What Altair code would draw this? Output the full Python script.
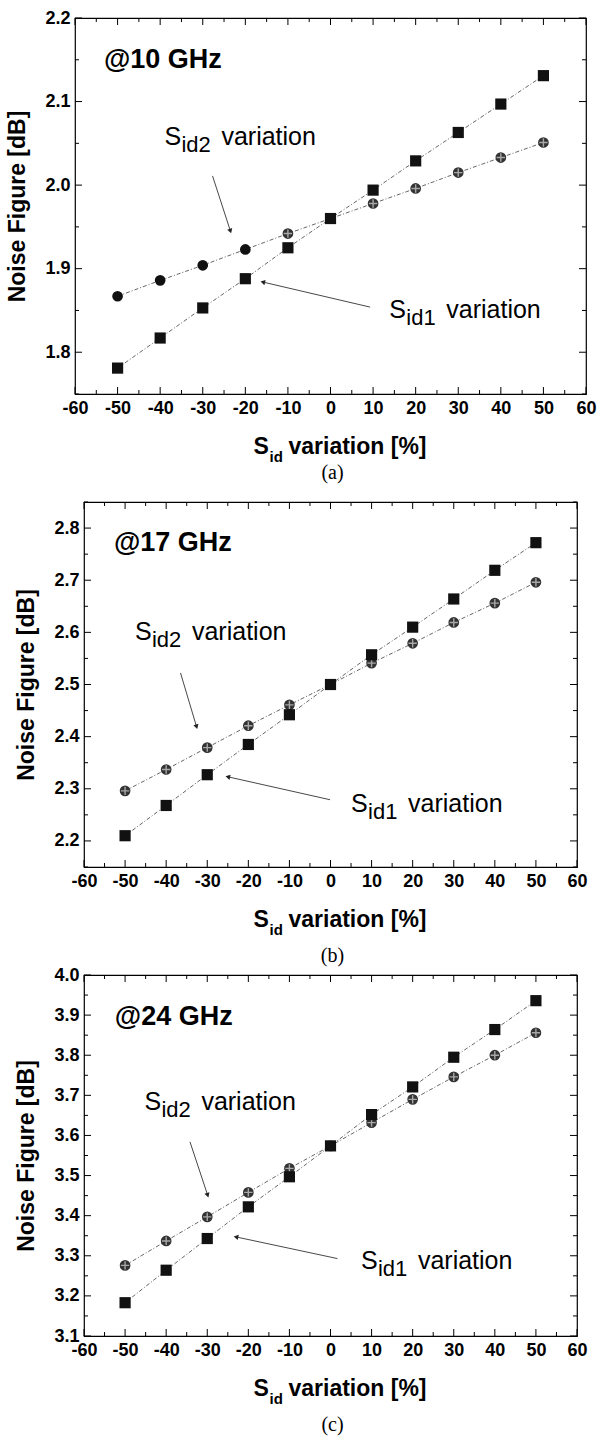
import math
import altair as alt
import pandas as pd

# Sid variation [%] and noise figure [dB] at three frequencies
variation = [-50, -40, -30, -20, -10, 0, 10, 20, 30, 40, 50]

nf_sid1_10ghz = [1.781, 1.817, 1.853, 1.888, 1.925, 1.960, 1.994, 2.029, 2.063, 2.097, 2.131]
nf_sid2_10ghz = [1.867, 1.886, 1.904, 1.923, 1.942, 1.960, 1.978, 1.996, 2.015, 2.033, 2.051]

nf_sid1_17ghz = [2.210, 2.268, 2.327, 2.385, 2.442, 2.500, 2.557, 2.610, 2.664, 2.719, 2.772]
nf_sid2_17ghz = [2.296, 2.337, 2.379, 2.421, 2.461, 2.500, 2.541, 2.579, 2.619, 2.656, 2.696]

nf_sid1_24ghz = [3.183, 3.264, 3.343, 3.422, 3.497, 3.574, 3.652, 3.721, 3.795, 3.864, 3.936]
nf_sid2_24ghz = [3.276, 3.337, 3.397, 3.458, 3.518, 3.574, 3.632, 3.690, 3.746, 3.800, 3.856]

# tick values
x_major = [-60, -50, -40, -30, -20, -10, 0, 10, 20, 30, 40, 50, 60]
x_minor = [-55, -45, -35, -25, -15, -5, 5, 15, 25, 35, 45, 55]
y_major_10 = [1.8, 1.9, 2.0, 2.1, 2.2]
y_minor_10 = [1.75, 1.85, 1.95, 2.05, 2.15]
y_major_17 = [2.2, 2.3, 2.4, 2.5, 2.6, 2.7, 2.8]
y_minor_17 = [2.15, 2.25, 2.35, 2.45, 2.55, 2.65, 2.75, 2.85]
y_major_24 = [3.1, 3.2, 3.3, 3.4, 3.5, 3.6, 3.7, 3.8, 3.9, 4.0]
y_minor_24 = [3.15, 3.25, 3.35, 3.45, 3.55, 3.65, 3.75, 3.85, 3.95]

SANS = "Liberation Sans, Arial, sans-serif"
SERIF = "Liberation Serif, Times New Roman, serif"
LABEL_SIZE = 18
TITLE_SIZE = 23
NOTE_SIZE = 25
SUB_SIZE = 22


def panel(sid1, sid2, ydom, y_major, y_minor, w, h, freq, freq_pos,
          sid2_pos, sid1_pos, sid2_arrow, sid1_arrow, hatch_from, caption, cap_gap):
    xs = alt.Scale(domain=[-60, 60], nice=False, zero=False)
    ys = alt.Scale(domain=ydom, nice=False, zero=False)

    x_axis = alt.Axis(values=x_major, title=None, ticks=False, tickSize=0, domain=False,
                      grid=False, labelFont=SANS, labelFontSize=LABEL_SIZE,
                      labelFontWeight="bold", labelColor="black", labelPadding=5,
                      labelFlush=False, labelOverlap=False, labelExpr="'' + datum.value")
    y_axis = alt.Axis(values=y_major, title="Noise Figure [dB]", ticks=False, tickSize=0,
                      domain=False, grid=False, labelFont=SANS, labelFontSize=LABEL_SIZE,
                      labelFontWeight="bold", labelColor="black", labelPadding=5,
                      labelFlush=False, labelOverlap=False,
                      labelExpr="format(datum.value, '.1f')",
                      titleFont=SANS, titleFontSize=TITLE_SIZE, titleFontWeight="bold",
                      titleColor="black", titlePadding=15)

    def X(field):
        return alt.X(field, type="quantitative", scale=xs, axis=x_axis)

    def Y(field):
        return alt.Y(field, type="quantitative", scale=ys, axis=y_axis)

    layers = []

    # inward-pointing ticks on all four sides of the frame
    for vals, length in [(x_major, 7), (x_minor, 4)]:
        src = alt.Chart(pd.DataFrame({"t": vals}))
        layers.append(src.mark_rule(color="black", strokeWidth=1).encode(
            x=X("t"), y=alt.value(h), y2=alt.value(h - length)))
        layers.append(src.mark_rule(color="black", strokeWidth=1).encode(
            x=X("t"), y=alt.value(0), y2=alt.value(length)))
    for vals, length in [(y_major, 7), (y_minor, 4)]:
        src = alt.Chart(pd.DataFrame({"t": vals}))
        layers.append(src.mark_rule(color="black", strokeWidth=1).encode(
            y=Y("t"), x=alt.value(0), x2=alt.value(length)))
        layers.append(src.mark_rule(color="black", strokeWidth=1).encode(
            y=Y("t"), x=alt.value(w), x2=alt.value(w - length)))

    # the two series
    df = pd.DataFrame({"v": variation, "s1": sid1, "s2": sid2})
    base = alt.Chart(df)
    line_style = dict(color="#555", strokeWidth=0.9, strokeDash=[4, 2, 1, 2])
    layers.append(base.mark_line(**line_style).encode(x=X("v"), y=Y("s1")))
    layers.append(base.mark_line(**line_style).encode(x=X("v"), y=Y("s2")))
    layers.append(base.mark_point(shape="circle", filled=True, size=115, opacity=1).encode(
        x=X("v"), y=Y("s2"),
        color=alt.condition(alt.datum.v >= hatch_from, alt.value("#333"), alt.value("#111"))))
    layers.append(base.transform_filter(alt.datum.v >= hatch_from).mark_point(
        shape="M-1,0L1,0M0,-1L0,1", filled=False, size=70, stroke="#a8a8a8",
        strokeWidth=1.4, opacity=1).encode(x=X("v"), y=Y("s2")))
    layers.append(base.mark_point(shape="square", filled=True, size=125, color="#111",
                                  opacity=1).encode(x=X("v"), y=Y("s1")))

    # frequency tag
    src = alt.Chart(pd.DataFrame({"x": [freq_pos[0]], "y": [freq_pos[1]]}))
    layers.append(src.mark_text(text=freq, font=SANS, fontSize=27, fontWeight="bold",
                                align="left", baseline="alphabetic", color="black").encode(
        x=X("x"), y=Y("y")))

    # 'S_idN variation' notes
    for (nx, ny), sub in [(sid2_pos, "id2"), (sid1_pos, "id1")]:
        src = alt.Chart(pd.DataFrame({"x": [nx], "y": [ny]}))
        for t, fs, dx, dy in [("S", NOTE_SIZE, 0, 0), (sub, SUB_SIZE, 17, 7),
                              ("variation", NOTE_SIZE, 57, 0)]:
            layers.append(src.mark_text(text=t, font=SANS, fontSize=fs, align="left",
                                        baseline="alphabetic", dx=dx, dy=dy,
                                        color="black").encode(x=X("x"), y=Y("y")))

    # pointers from the notes to the curves
    for (x1, y1), (x2, y2) in [sid2_arrow, sid1_arrow]:
        src = alt.Chart(pd.DataFrame({"x1": [x1], "y1": [y1], "x2": [x2], "y2": [y2]}))
        layers.append(src.mark_rule(color="#333", strokeWidth=0.9).encode(
            x=X("x1"), y=Y("y1"), x2="x2:Q", y2="y2:Q"))
        dxs = (x2 - x1) * w / 120.0
        dys = -(y2 - y1) * h / (ydom[1] - ydom[0])
        ang = math.degrees(math.atan2(dxs, -dys)) % 360
        layers.append(src.mark_point(shape="triangle-up", filled=True, size=28, color="#222",
                                     opacity=1, angle=ang).encode(x=X("x2"), y=Y("y2")))

    # x-axis title with subscript, and the panel caption
    cx = w / 2.0
    ty = h + 60
    one = alt.Chart(pd.DataFrame({"k": [0]}))
    for t, fs, xoff, yoff in [("S", TITLE_SIZE, -77, 0), ("id", 15, -61, 8),
                              ("variation [%]", TITLE_SIZE, -42, 0)]:
        layers.append(one.mark_text(text=t, font=SANS, fontSize=fs, fontWeight="bold",
                                    align="left", baseline="alphabetic", color="black").encode(
            x=alt.value(cx + xoff), y=alt.value(ty + yoff)))
    layers.append(one.mark_text(text=caption, font=SERIF, fontSize=20, align="center",
                                baseline="alphabetic", color="black").encode(
        x=alt.value(cx + 2), y=alt.value(h + cap_gap)))

    return alt.layer(*layers).properties(width=w, height=h)


panel_a = panel(nf_sid1_10ghz, nf_sid2_10ghz, [1.75, 2.2], y_major_10, y_minor_10, 511, 376,
                "@10 GHz", (-53.2, 2.14), (-39, 2.048), (13.8, 1.841),
                ((-27.7, 2.011), (-23.5, 1.945)), ((9.3, 1.854), (-15.9, 1.884)),
                -10, "(a)", 85)
panel_b = panel(nf_sid1_17ghz, nf_sid2_17ghz, [2.15, 2.85], y_major_17, y_minor_17, 493, 365,
                "@17 GHz", (-52.7, 2.756), (-47.6, 2.585), (5.0, 2.256),
                ((-36.5, 2.522), (-32.6, 2.419)), ((-0.1, 2.279), (-25.0, 2.323)),
                -50, "(b)", 95)
panel_c = panel(nf_sid1_24ghz, nf_sid2_24ghz, [3.1, 4.0], y_major_24, y_minor_24, 493, 361,
                "@24 GHz", (-52.5, 3.875), (-45.3, 3.663), (7.4, 3.266),
                ((-34.2, 3.584), (-29.9, 3.451)), ((1.7, 3.293), (-23.0, 3.347)),
                -50, "(c)", 95)

chart = alt.vconcat(panel_a, panel_b, panel_c, spacing=108, bounds="flush", center=True).properties(
    padding={"left": 6, "top": 8, "right": 0, "bottom": 0},
    background="white",
).configure_view(stroke="black", strokeWidth=1.2)

chart.save("out.html", embed_options={"renderer": "svg", "actions": False})
